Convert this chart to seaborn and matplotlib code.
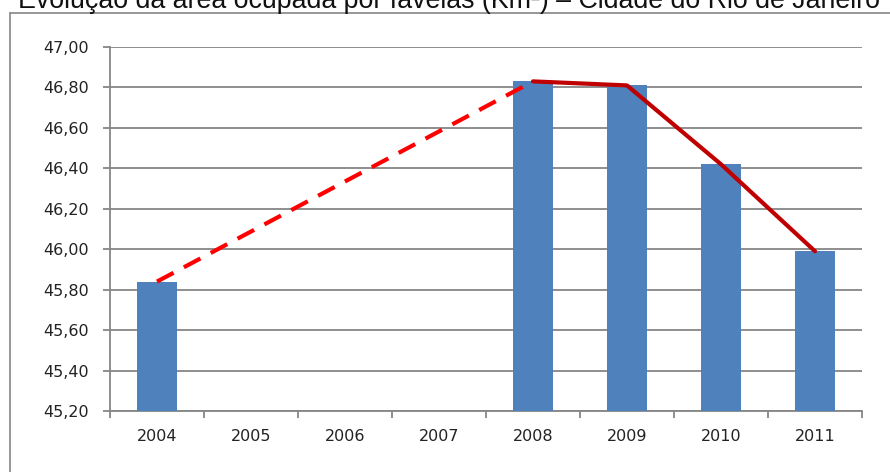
import matplotlib.pyplot as plt
import seaborn as sns
import numpy as np
from matplotlib.ticker import FixedLocator

years = ['2004', '2005', '2006', '2007', '2008', '2009', '2010', '2011']
area = [45.84, np.nan, np.nan, np.nan, 46.83, 46.81, 46.42, 45.99]

# trend lines drawn over the bars
dash_years = ['2004', '2008']
dash_vals = [45.84, 46.83]
solid_years = ['2008', '2009', '2010', '2011']
solid_vals = [46.83, 46.81, 46.42, 45.99]

yticks = [45.2, 45.4, 45.6, 45.8, 46.0, 46.2, 46.4, 46.6, 46.8, 47.0]

title = 'Evolução da área ocupada por favelas (Km²) – Cidade do Rio de Janeiro'

sns.set_style('white')
plt.rcParams['font.family'] = ['Liberation Sans', 'DejaVu Sans']

fig = plt.figure(figsize=(8.9, 4.72), dpi=100)
ax = fig.add_axes([110 / 890, 1 - 411 / 472, 752 / 890, 364 / 472])

sns.barplot(x=years, y=area, order=years, color='#4F81BD', saturation=1,
            width=0.42, linewidth=0, ax=ax, zorder=3)

pos = {y: i for i, y in enumerate(years)}
sns.lineplot(x=[pos[y] for y in dash_years], y=dash_vals, ax=ax, color='#FF0000',
             lw=3, zorder=4)
ax.lines[-1].set_dashes((4.5, 2.8))
sns.lineplot(x=[pos[y] for y in solid_years], y=solid_vals, ax=ax, color='#C00000',
             lw=3, zorder=5)

ax.set_xlim(-0.5, len(years) - 0.5)
ax.set_ylim(45.2, 47.0)
ax.set_yticks(yticks)
ax.set_yticklabels([f'{v:.2f}'.replace('.', ',') for v in yticks])
ax.yaxis.grid(True, color='#868686', lw=1.3, zorder=0)
ax.set_axisbelow(True)

ax.xaxis.set_minor_locator(FixedLocator(np.arange(-0.5, len(years), 1.0)))
ax.tick_params(axis='x', which='major', length=0, pad=13, labelsize=11.5,
               labelcolor='#222222')
ax.tick_params(axis='x', which='minor', length=5, width=1.3, color='#868686',
               direction='out', bottom=True)
ax.tick_params(axis='y', length=5, width=1.3, color='#868686', left=True,
               pad=10, labelsize=11.5, labelcolor='#222222')
for lab in ax.get_xticklabels() + ax.get_yticklabels():
    lab.set_family('DejaVu Sans')
ax.set_xlabel('')
ax.set_ylabel('')

for side in ['top', 'right']:
    ax.spines[side].set_visible(False)
for side in ['left', 'bottom']:
    ax.spines[side].set_color('#868686')
    ax.spines[side].set_linewidth(1.3)

# outer chart frame (only top and left edges visible in the crop)
fig.add_artist(plt.Line2D([10 / 890, 1], [1 - 13 / 472, 1 - 13 / 472],
                          color='#868686', lw=1.2, transform=fig.transFigure))
fig.add_artist(plt.Line2D([10 / 890, 10 / 890], [0, 1 - 13 / 472],
                          color='#868686', lw=1.2, transform=fig.transFigure))

fig.text(18 / 890, 1 - 8 / 472, title, fontsize=19.3, color='#111111',
         ha='left', va='baseline')

fig.savefig('out.png', dpi=100)
plt.close()
